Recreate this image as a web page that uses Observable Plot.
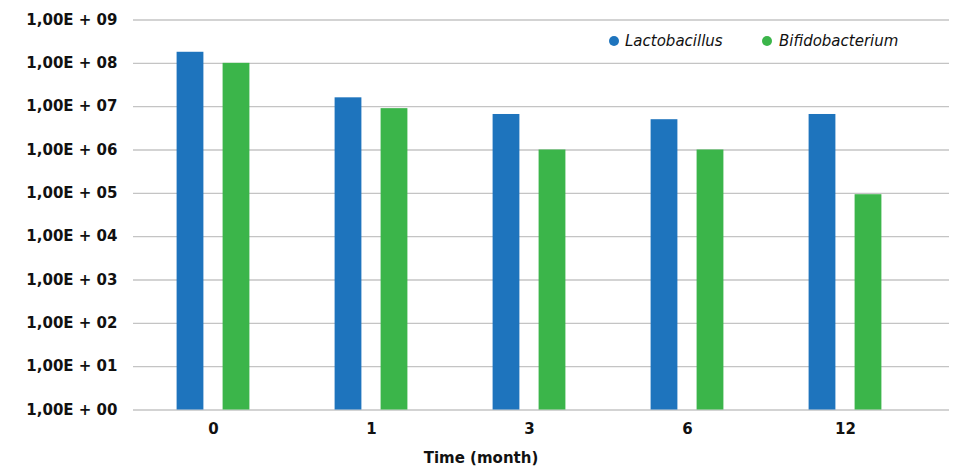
<!DOCTYPE html>
<html>
<head>
<meta charset="utf-8">
<script src="https://cdn.jsdelivr.net/npm/d3@7"></script>
<script src="https://cdn.jsdelivr.net/npm/@observablehq/plot@0.6"></script>
<style>
  html, body { margin: 0; padding: 0; background: #fff; }
  #wrap { position: relative; width: 953px; height: 467px; font-family: "DejaVu Sans", sans-serif; }
  #chart { position: absolute; left: 0; top: 0; }
  #legend { position: absolute; left: 0; top: 31px; font-style: italic; font-size: 15px; color: #111; }
  .item { position: absolute; white-space: nowrap; line-height: 20px; }
  .sw { position: absolute; width: 10px; height: 10px; border-radius: 50%; top: 5px; }
  #xlabel { position: absolute; top: 449px; left: 0; width: 962px; text-align: center; font-weight: bold; font-size: 15px; color: #111; }
</style>
</head>
<body>
<div id="wrap">
  <div id="chart"></div>
  <div id="legend"></div>
  <div id="xlabel">Time (month)</div>
</div>
<script>
const times = ["0", "1", "3", "6", "12"];
const lactobacillus = [1.8e8, 1.6e7, 6.6e6, 5.0e6, 6.6e6];
const bifidobacterium = [1.0e8, 9.0e6, 1.0e6, 1.0e6, 9.3e4];
const seriesNames = ["Lactobacillus", "Bifidobacterium"];
const colors = ["#1E74BD", "#3BB54A"];
const yTicks = [1, 1e1, 1e2, 1e3, 1e4, 1e5, 1e6, 1e7, 1e8, 1e9];

const lactoData = times.map((t, i) => ({time: t, value: lactobacillus[i]}));
const bifidoData = times.map((t, i) => ({time: t, value: bifidobacterium[i]}));

const fmt = d => "1,00E + " + String(Math.round(Math.log10(d))).padStart(2, "0");

const chart = Plot.plot({
  width: 953,
  height: 444,
  marginLeft: 133,
  marginRight: 4,
  marginTop: 19.5,
  marginBottom: 34.5,
  style: {fontFamily: "DejaVu Sans, sans-serif", color: "#111", background: "#fff"},
  x: {type: "band", domain: times, range: [133.4, 924.6], padding: 0, label: null},
  y: {type: "log", domain: [1, 1e9], label: null},
  marks: [
    Plot.ruleY(yTicks, {stroke: "#c4c4c4", strokeWidth: 1.4}),
    Plot.barY(lactoData, {x: "time", y1: 1, y2: "value", fill: colors[0], dx: -23, insetLeft: 65.6, insetRight: 65.6}),
    Plot.barY(bifidoData, {x: "time", y1: 1, y2: "value", fill: colors[1], dx: 23, insetLeft: 65.6, insetRight: 65.6}),
    Plot.axisY({ticks: yTicks, tickFormat: fmt, tickSize: 0, tickPadding: 16, fontSize: 15, fontWeight: "bold", label: null}),
    Plot.axisX({tickSize: 0, tickPadding: 13, fontSize: 15, fontWeight: "bold", label: null})
  ]
});
document.getElementById("chart").appendChild(chart);

const legend = document.getElementById("legend");
const itemPos = [[609, 625], [762, 779]];
seriesNames.forEach((name, i) => {
  const sw = document.createElement("div");
  sw.className = "sw";
  sw.style.left = itemPos[i][0] + "px";
  sw.style.background = colors[i];
  legend.appendChild(sw);
  const t = document.createElement("div");
  t.className = "item";
  t.style.left = itemPos[i][1] + "px";
  t.textContent = name;
  legend.appendChild(t);
});
</script>
</body>
</html>
